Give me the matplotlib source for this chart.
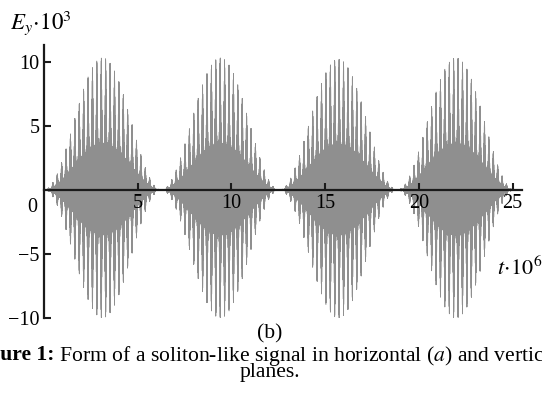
import numpy as np
import matplotlib
matplotlib.use("Agg")
import matplotlib.pyplot as plt

plt.rcParams['font.family'] = ['Liberation Serif', 'DejaVu Serif']
plt.rcParams['mathtext.fontset'] = 'stix'

# four soliton-like lobes of the E_y signal (t in units of 1e-6, E in 1e-3)
lobe_edges = [0.0, 6.25, 12.55, 18.85, 25.1]
peak_up = [10.3, 10.3, 10.2, 10.3]
peak_down = [10.0, 10.0, 10.0, 10.0]
spike_period = 0.235    # spacing of the tall carrier spikes
base_level = 0.35       # part of the envelope that looks solid grey

xticks = [5, 10, 15, 20, 25]
yticks = [-10, -5, 5, 10]

t = np.linspace(lobe_edges[0], lobe_edges[-1], 30001)
env_up = np.zeros_like(t)
env_dn = np.zeros_like(t)
for i in range(len(peak_up)):
    a, b = lobe_edges[i], lobe_edges[i + 1]
    m = (t >= a) & (t <= b)
    s = np.sin(np.pi * (t[m] - a) / (b - a)) ** 2
    env_up[m] = peak_up[i] * s
    env_dn[m] = peak_down[i] * s

spk = base_level + (1 - base_level) * np.abs(np.cos(np.pi * t / spike_period)) ** 6
sign = np.where(np.arange(t.size) % 2 == 0, 1.0, -1.0)
E = np.where(sign > 0, env_up, env_dn) * spk * sign

fig = plt.figure(figsize=(5.42, 4.0), dpi=100)
ax = fig.add_axes([44 / 542, 82 / 400, 478 / 542, 273 / 400])
ax.plot(t, E, color='#8f8f8f', lw=0.4, zorder=1)
ax.set_xlim(0, 25.5)
ax.set_ylim(-10, 11.3)

for side in ['top', 'right']:
    ax.spines[side].set_visible(False)
ax.spines['left'].set_position(('data', 0))
ax.spines['bottom'].set_position(('data', 0))
for side in ['left', 'bottom']:
    ax.spines[side].set_linewidth(1.6)
    ax.spines[side].set_color('#1a1a1a')
    ax.spines[side].set_zorder(3)

ax.set_xticks(xticks)
ax.set_yticks(yticks)
ax.tick_params(direction='in', length=5, width=1.5, labelsize=14.5, color='#1a1a1a', pad=3)
ax.text(-0.35, -1.4, '0', fontsize=14.5, ha='right', va='center')

fig.text(10 / 542, 1 - 23 / 400, r'$E_y\!\cdot\!10^3$', fontsize=16.5, ha='left', va='center')
fig.text(497 / 542, 1 - 268 / 400, r'$t\!\cdot\!10^6$', fontsize=16, ha='left', va='center')

# caption under the plot
cap = 15.6
fig.text(270 / 542, 1 - 334 / 400, '(b)', fontsize=cap, ha='center', va='center')
head = fig.text(-30 / 542, 1 - 355 / 400, 'Figure 1:', fontsize=cap, fontweight='bold',
                ha='left', va='center')
ax.annotate(r' Form of a soliton-like signal in horizontal ($a$) and vertical ($b$)',
            xy=(1, 0.5), xycoords=head, fontsize=cap, ha='left', va='center',
            annotation_clip=False)
fig.text(270 / 542, 1 - 372 / 400, 'planes.', fontsize=cap, ha='center', va='center')

fig.savefig('out.png', dpi=100)
